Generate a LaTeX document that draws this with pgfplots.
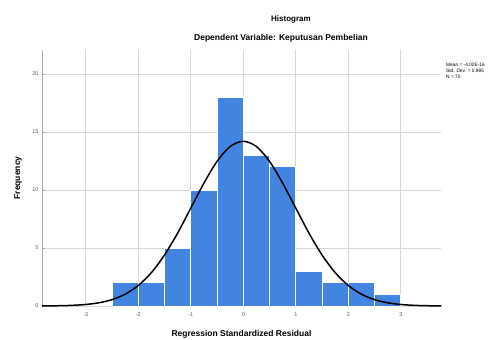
\documentclass[border=0pt]{standalone}
\usepackage{fontspec}
\setmainfont{Liberation Sans}
\usepackage{pgfplots}
\pgfplotsset{compat=1.18}
\definecolor{barblue}{RGB}{66,133,225}
\definecolor{gridgray}{RGB}{215,215,215}
\definecolor{tickgray}{RGB}{90,90,90}
\begin{document}
\begin{tikzpicture}
\useasboundingbox (0,0) rectangle (498pt,340pt);
\begin{axis}[
  at={(42pt,34pt)}, anchor=south west,
  scale only axis, width=399pt, height=256pt,
  xmin=-3.834, xmax=3.766, ymin=0, ymax=22.07,
  xtick={-3,-2,-1,0,1,2,3},
  ytick={0,5,10,15,20},
  grid=major,
  major grid style={gridgray, line width=0.6pt},
  axis x line*=bottom, axis y line*=left,
  x axis line style={draw=none},
  y axis line style={draw=gridgray!80!black, line width=0.6pt},
  tick style={draw=gridgray!80!black, line width=0.5pt},
  major tick length=3pt,
  xtick style={draw=none},
  tick label style={font=\fontsize{5.5}{6.5}\selectfont, text=tickgray},
  xticklabel style={yshift=-3pt},
  /pgf/number format/assume math mode=true,
  xlabel={Regression Standardized Residual},
  ylabel={Frequency},
  every axis x label/.style={at={(axis description cs:0.5,0)}, yshift=-28pt, anchor=center, font=\fontsize{8.5}{10}\selectfont\bfseries},
  every axis y label/.style={at={(axis description cs:0,0.5)}, xshift=-24pt, anchor=center, rotate=90, font=\fontsize{8.5}{10}\selectfont\bfseries},
  clip=false,
]
\addplot[ybar interval, fill=barblue, draw=white, line width=0.8pt] coordinates {
(-2.5,2) (-2.0,2) (-1.5,5) (-1.0,10) (-0.5,18) (0.0,13) (0.5,12) (1.0,3) (1.5,2) (2.0,2) (2.5,1) (3.0,1)
};
\addplot[black, line width=1.5pt, smooth, no marks] coordinates {
(-3.834,0.003) (-3.75,0.009) (-3.5,0.024) (-3.25,0.058) (-3.0,0.131) (-2.75,0.277) (-2.5,0.548) (-2.25,1.02)
(-2.0,1.77) (-1.75,2.88) (-1.5,4.40) (-1.25,6.29) (-1.0,8.44) (-0.75,10.59) (-0.5,12.47) (-0.25,13.75)
(0,14.2) (0.25,13.75) (0.5,12.47) (0.75,10.59) (1.0,8.44) (1.25,6.29) (1.5,4.40) (1.75,2.88)
(2.0,1.77) (2.25,1.02) (2.5,0.548) (2.75,0.277) (3.0,0.131) (3.25,0.058) (3.5,0.024) (3.75,0.009) (3.766,0.008)
};
\end{axis}
\node[font=\fontsize{8}{10}\selectfont\bfseries] at (291pt,321pt) {Histogram};
\node[font=\fontsize{8.5}{10}\selectfont\bfseries] at (281pt,302pt) {Dependent Variable: Keputusan Pembelian};
\node[overlay, anchor=north west, align=left, font=\fontsize{4.8}{6}\selectfont, inner sep=0pt] at (446pt,277pt) {Mean = -4.02E-16\\Std. Dev. = 0.985\\N = 70};
\end{tikzpicture}
\end{document}
